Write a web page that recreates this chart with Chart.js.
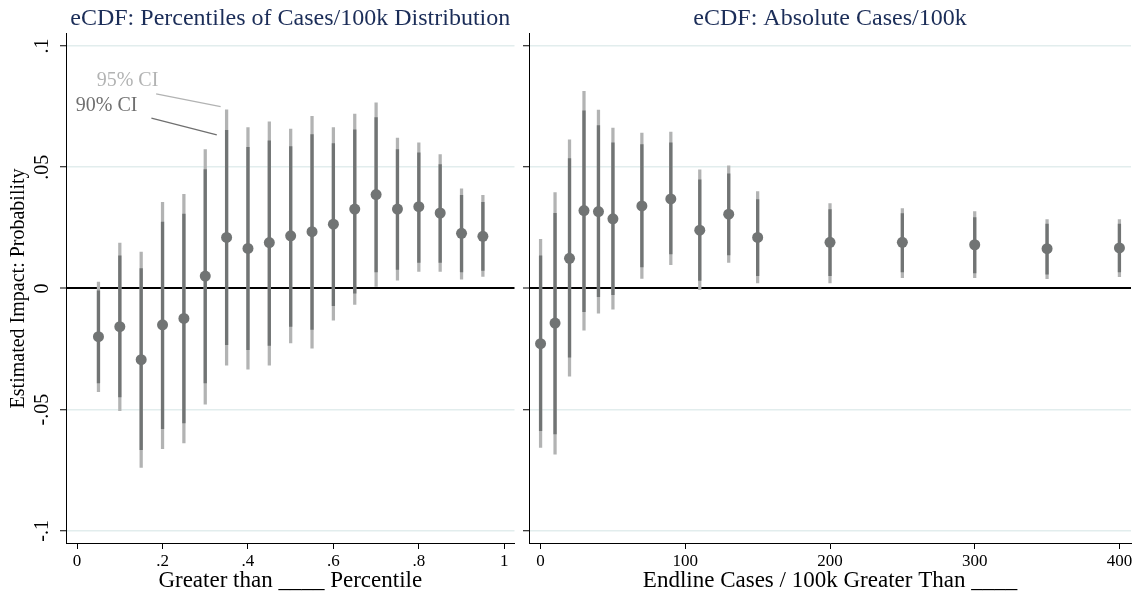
<!DOCTYPE html>
<html>
<head>
<meta charset="utf-8">
<script src="https://cdn.jsdelivr.net/npm/chart.js@4/dist/chart.umd.min.js"></script>
<style>
    html, body { margin: 0; padding: 0; background: #fff; }
    #wrap { position: relative; width: 1140px; height: 597px; }
    canvas { position: absolute; top: 0; }
</style>
</head>
<body>
<div id="wrap">
    <canvas id="leftChart" width="520" height="597" style="left:0"></canvas>
    <canvas id="rightChart" width="620" height="597" style="left:520px"></canvas>
</div>
<script>
// Shared y axis
const yTicks = [-0.1, -0.05, 0, 0.05, 0.1];

// Left panel: percentiles of cases/100k distribution
const pctX = [0.05, 0.10, 0.15, 0.20, 0.25, 0.30, 0.35, 0.40, 0.45, 0.50,
              0.55, 0.60, 0.65, 0.70, 0.75, 0.80, 0.85, 0.90, 0.95];
const pctMean = [-0.0199, -0.0158, -0.0294, -0.0150, -0.0124, 0.0051, 0.0210, 0.0165, 0.0189, 0.0217,
                 0.0234, 0.0265, 0.0327, 0.0387, 0.0327, 0.0337, 0.0311, 0.0227, 0.0215];
const pct90Lo = [-0.0390, -0.0448, -0.0665, -0.0579, -0.0555, -0.0390, -0.0232, -0.0253, -0.0235, -0.0157,
                 -0.0169, -0.0071, -0.0020, 0.0068, 0.0078, 0.0107, 0.0107, 0.0068, 0.0074];
const pct90Hi = [-0.0010, 0.0134, 0.0082, 0.0273, 0.0307, 0.0490, 0.0652, 0.0582, 0.0609, 0.0585,
                 0.0634, 0.0597, 0.0654, 0.0704, 0.0572, 0.0559, 0.0511, 0.0384, 0.0355];
const pct95Lo = [-0.0426, -0.0504, -0.0738, -0.0661, -0.0637, -0.0477, -0.0317, -0.0333, -0.0317, -0.0225,
                 -0.0246, -0.0131, -0.0066, 0.0008, 0.0034, 0.0070, 0.0070, 0.0038, 0.0049];
const pct95Hi = [0.0026, 0.0187, 0.0150, 0.0355, 0.0388, 0.0573, 0.0736, 0.0663, 0.0687, 0.0657,
                 0.0710, 0.0663, 0.0719, 0.0765, 0.0620, 0.0600, 0.0552, 0.0411, 0.0384];
const pctTicks = [0, 0.2, 0.4, 0.6, 0.8, 1];

// Right panel: absolute cases/100k thresholds
const absX = [0, 10, 20, 30, 40, 50, 70, 90, 110, 130, 150, 200, 250, 300, 350, 400];
const absMean = [-0.0228, -0.0143, 0.0124, 0.0321, 0.0317, 0.0287, 0.0340, 0.0369,
                 0.0240, 0.0306, 0.0210, 0.0190, 0.0190, 0.0180, 0.0164, 0.0167];
const abs90Lo = [-0.0587, -0.0600, -0.0284, -0.0096, -0.0034, -0.0026, 0.0089, 0.0142,
                 0.0033, 0.0138, 0.0052, 0.0052, 0.0068, 0.0064, 0.0059, 0.0068];
const abs90Hi = [0.0134, 0.0310, 0.0535, 0.0732, 0.0671, 0.0600, 0.0593, 0.0600,
                 0.0448, 0.0473, 0.0366, 0.0325, 0.0309, 0.0292, 0.0265, 0.0265];
const abs95Lo = [-0.0656, -0.0684, -0.0362, -0.0172, -0.0102, -0.0086, 0.0041, 0.0098,
                 -0.0005, 0.0107, 0.0023, 0.0023, 0.0044, 0.0044, 0.0040, 0.0048];
const abs95Hi = [0.0202, 0.0395, 0.0613, 0.0813, 0.0735, 0.0661, 0.0641, 0.0645,
                 0.0489, 0.0505, 0.0399, 0.0350, 0.0329, 0.0317, 0.0284, 0.0284];
const absTicks = [0, 100, 200, 300, 400];

// CI key drawn in the left panel (data units)
const ciKeyText = ['95% CI', '90% CI'];
const ciKeyAt = [[0.118, 0.0856], [0.069, 0.0755]];
const ciKeyLine = [[0.185, 0.0802, 0.336, 0.0750], [0.174, 0.0702, 0.327, 0.0633]];

const SERIF = "'Liberation Serif', 'DejaVu Serif', serif";
const DARK = '#717474';
const LIGHT = '#b2b3b3';

// Stata style number: .05 instead of 0.05
function stataFmt(v) {
    const s = String(+v.toFixed(4));
    return s.replace(/^0\./, '.').replace(/^-0\./, '-.');
}

const yLabelsPlugin = {
    id: 'yLabels',
    afterDraw(chart) {
        const ctx = chart.ctx;
        const y = chart.scales.y;
        ctx.save();
        ctx.fillStyle = '#000';
        ctx.font = '20px ' + SERIF;
        ctx.textAlign = 'center';
        ctx.textBaseline = 'middle';
        yTicks.forEach(v => {
            ctx.save();
            ctx.translate(y.right - 23, y.getPixelForValue(v));
            ctx.rotate(-Math.PI / 2);
            ctx.fillText(stataFmt(v), 0, 0);
            ctx.restore();
        });
        ctx.restore();
    }
};

const ciKeyPlugin = {
    id: 'ciKey',
    afterDatasetsDraw(chart) {
        const ctx = chart.ctx;
        const xs = chart.scales.x, ys = chart.scales.y;
        const colors = [LIGHT, '#6f6f6f'];
        ctx.save();
        ctx.font = '20px ' + SERIF;
        ctx.textAlign = 'center';
        ctx.textBaseline = 'middle';
        ciKeyText.forEach((t, i) => {
            ctx.fillStyle = colors[i];
            ctx.fillText(t, xs.getPixelForValue(ciKeyAt[i][0]), ys.getPixelForValue(ciKeyAt[i][1]));
            const l = ciKeyLine[i];
            ctx.strokeStyle = colors[i];
            ctx.lineWidth = 1.2;
            ctx.beginPath();
            ctx.moveTo(xs.getPixelForValue(l[0]), ys.getPixelForValue(l[1]));
            ctx.lineTo(xs.getPixelForValue(l[2]), ys.getPixelForValue(l[3]));
            ctx.stroke();
        });
        ctx.restore();
    }
};

function zip(xs, lo, hi) {
    return xs.map((x, i) => ({x: x, y: [lo[i], hi[i]]}));
}

/**
 * Build one coefficient panel
 */
function makePanel(canvasId, p) {
    const ctx = document.getElementById(canvasId).getContext('2d');
    return new Chart(ctx, {
        type: 'scatter',
        data: {
            datasets: [
                {
                    type: 'scatter',
                    data: p.x.map((x, i) => ({x: x, y: p.mean[i]})),
                    pointRadius: 5.5,
                    pointBackgroundColor: DARK,
                    pointBorderWidth: 0
                },
                {
                    type: 'bar',
                    data: zip(p.x, p.lo90, p.hi90),
                    backgroundColor: DARK,
                    barThickness: 2.6,
                    grouped: false
                },
                {
                    type: 'bar',
                    data: zip(p.x, p.lo95, p.hi95),
                    backgroundColor: LIGHT,
                    barThickness: 2.6,
                    grouped: false
                }
            ]
        },
        options: {
            responsive: false,
            animation: false,
            events: [],
            layout: { padding: { right: p.padRight } },
            plugins: {
                legend: { display: false },
                tooltip: { enabled: false },
                title: {
                    display: true,
                    text: p.title,
                    color: '#1b2d58',
                    fullSize: false,
                    font: { family: SERIF, size: 24, weight: 'normal' },
                    padding: { top: 4, bottom: 1 }
                }
            },
            scales: {
                x: {
                    type: 'linear',
                    offset: false,
                    min: p.xMin,
                    max: p.xMax,
                    afterBuildTicks: s => { s.ticks = p.ticks.map(v => ({value: v})); },
                    afterFit: s => { s.height = 54; },
                    border: { display: true, color: '#000', width: 1 },
                    grid: {
                        offset: false,
                        drawOnChartArea: false,
                        tickLength: 6,
                        tickColor: '#000',
                        tickWidth: 1
                    },
                    ticks: {
                        autoSkip: false,
                        maxRotation: 0,
                        padding: 2,
                        color: '#000',
                        font: { family: SERIF, size: 17 },
                        callback: v => stataFmt(v)
                    },
                    title: {
                        display: true,
                        text: p.xTitle,
                        color: '#000',
                        font: { family: SERIF, size: 23 },
                        padding: { top: 0, bottom: 2 }
                    }
                },
                y: {
                    min: -0.105,
                    max: 0.105,
                    afterBuildTicks: s => { s.ticks = yTicks.map(v => ({value: v})); },
                    afterFit: s => { s.width = p.yWidth; },
                    border: { display: true, color: '#000', width: 1 },
                    grid: {
                        color: c => c.tick && c.tick.value === 0 ? '#000' : '#e2eded',
                        lineWidth: c => c.tick && c.tick.value === 0 ? 2 : 1.5,
                        tickLength: 6,
                        tickColor: '#000',
                        tickWidth: 1
                    },
                    ticks: { display: false },
                    title: {
                        display: !!p.yTitle,
                        text: p.yTitle,
                        color: '#000',
                        font: { family: SERIF, size: 20 },
                        padding: { top: 7, bottom: 0 }
                    }
                }
            }
        },
        plugins: p.plugins
    });
}

makePanel('leftChart', {
    title: 'eCDF: Percentiles of Cases/100k Distribution',
    xTitle: 'Greater than ____ Percentile',
    yTitle: 'Estimated Impact: Probability',
    x: pctX, mean: pctMean, lo90: pct90Lo, hi90: pct90Hi, lo95: pct95Lo, hi95: pct95Hi,
    ticks: pctTicks, xMin: -0.026, xMax: 1.024,
    yWidth: 66, padRight: 3,
    plugins: [yLabelsPlugin, ciKeyPlugin]
});

makePanel('rightChart', {
    title: 'eCDF: Absolute Cases/100k',
    xTitle: 'Endline Cases / 100k Greater Than ____',
    yTitle: '',
    x: absX, mean: absMean, lo90: abs90Lo, hi90: abs90Hi, lo95: abs95Lo, hi95: abs95Hi,
    ticks: absTicks, xMin: -8, xMax: 408,
    yWidth: 9, padRight: 9,
    plugins: []
});
</script>
</body>
</html>
